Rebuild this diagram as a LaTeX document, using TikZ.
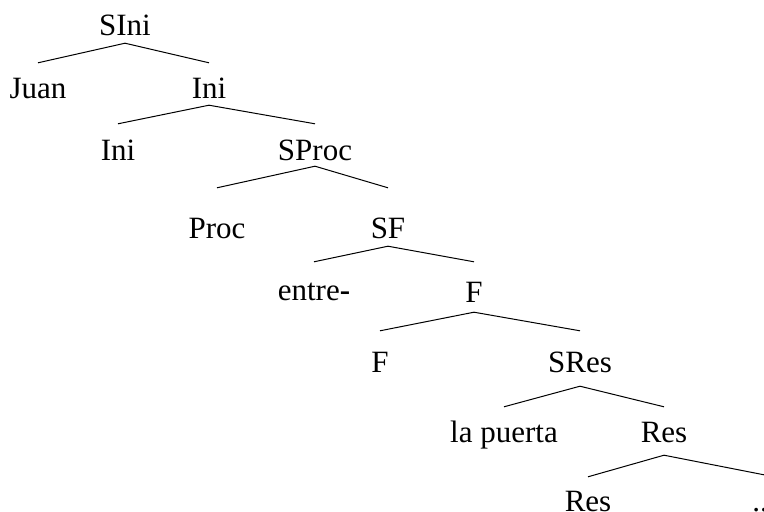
\documentclass[tikz,border=0pt]{standalone}
\usepackage{fontspec}
\setmainfont{Liberation Serif}
\usepackage{tikz}
\tikzstyle{cat}=[inner sep=0pt, anchor=base, text height=36pt, text depth=8pt]
\tikzstyle{branch}=[line width=1pt]

\begin{document}
\begin{tikzpicture}[x=1pt,y=-1pt,font=\fontsize{31}{36}\selectfont]
  \useasboundingbox (0,0) rectangle (764,512);
  \node at (125,35) (sini)[cat] {SIni};
  \node at (38,98) (juan)[cat,text height=35pt] {Juan};
  \node at (209,98) (ini)[cat,text height=35pt,text depth=7pt] {Ini};
  \node at (118,160) (inil)[cat] {Ini};
  \node at (315,160) (sproc)[cat,text depth=6pt] {SProc};
  \node at (217,238) (proc)[cat,text height=50pt] {Proc};
  \node at (388,238) (sf)[cat,text height=50pt] {SF};
  \node at (314,300) (entre)[cat,text height=38pt] {entre\textbf{-}};
  \node at (474,302) (f)[cat,text height=40pt,text depth=10pt] {F};
  \node at (380,372) (fl)[cat,text height=41pt] {F};
  \node at (580,372) (sres)[cat,text height=41pt,text depth=14pt] {SRes};
  \node at (504,442) (lapuerta)[cat,text height=35pt] {la puerta};
  \node at (664,442) (res)[cat,text height=35pt,text depth=13pt] {Res};
  \node at (588,511) (resb)[cat,text height=34pt] {Res};
  \node at (764,511) (dots)[cat] {...};

  % branches
  \draw[branch] (juan.north) -- (sini.south) -- (ini.north);
  \draw[branch] (inil.north) -- (ini.south) -- (sproc.north);
  \draw[branch] (proc.north) -- (sproc.south) -- (sf.north);
  \draw[branch] (entre.north) -- (sf.south) -- (f.north);
  \draw[branch] (fl.north) -- (f.south) -- (sres.north);
  \draw[branch] (lapuerta.north) -- (sres.south) -- (res.north);
  \draw[branch] (resb.north) -- (res.south) -- (dots.north);
\end{tikzpicture}
\end{document}
